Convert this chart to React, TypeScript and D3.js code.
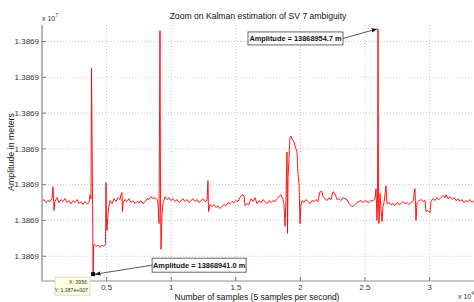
import React from "react";
import * as d3 from "d3";

const BASE = 13868000;
const sampleIndex = [
  0, 155, 310, 464, 619, 774, 851, 929, 1006, 1161, 1316, 1471, 1625, 1780, 1935, 2090, 2245, 2399, 2554, 2709,
  2864, 3019, 3173, 3328, 3483, 3638, 3715, 3793, 3831, 3956, 3994, 4025, 4180, 4334, 4489, 4644, 4799, 4915, 4954, 4992,
  5031, 5108, 5186, 5263, 5418, 5573, 5728, 5882, 6037, 6115, 6192, 6231, 6269, 6424, 6579, 6734, 6889, 7043, 7198, 7353,
  7508, 7663, 7817, 7972, 8127, 8282, 8437, 8591, 8746, 8901, 8978, 9056, 9133, 9172, 9211, 9288, 9365, 9520, 9675, 9830,
  9985, 10139, 10294, 10449, 10604, 10759, 10913, 11068, 11223, 11378, 11533, 11687, 11842, 11997, 12152, 12307, 12461, 12616, 12771, 12848,
  12887, 13003, 13158, 13313, 13468, 13622, 13777, 13932, 14087, 14242, 14396, 14551, 14706, 14861, 15016, 15170, 15325, 15480, 15635, 15712,
  15867, 16022, 16177, 16331, 16486, 16641, 16796, 16951, 17105, 17260, 17415, 17570, 17725, 17879, 18034, 18189, 18344, 18499, 18653, 18731,
  18808, 18886, 18963, 19002, 19040, 19118, 19195, 19273, 19350, 19505, 19582, 19737, 19814, 19892, 19969, 20047, 20124, 20279, 20434, 20588,
  20743, 20898, 21053, 21208, 21362, 21517, 21672, 21749, 21904, 22059, 22214, 22369, 22523, 22678, 22833, 22988, 23143, 23297, 23452, 23607,
  23762, 23917, 24071, 24226, 24381, 24536, 24691, 24845, 25000, 25155, 25310, 25465, 25619, 25774, 25852, 25929, 25968, 26006, 26045, 26084,
  26161, 26239, 26316, 26393, 26471, 26626, 26703, 26858, 27013, 27168, 27322, 27477, 27632, 27787, 27942, 28096, 28251, 28406, 28561, 28716,
  28870, 28948, 29025, 29180, 29335, 29489, 29644, 29722, 29876, 30031, 30109, 30263, 30418, 30573, 30728, 30883, 31037, 31192, 31270, 31424,
  31579, 31734, 31889, 32044, 32198, 32353, 32508, 32663, 32818, 32972, 33127, 33282, 33437,
];
// metres above 13868000 m
const ambiguityAboveBase = [
  945.06, 945.17, 945.0, 945.11, 945.06, 945.22, 945.89, 944.56, 945.06, 945.28, 945.0, 945.17, 945.06, 945.22, 945.0, 945.11, 944.94, 945.11, 945.0, 945.17,
  944.94, 945.06, 944.89, 945.06, 944.94, 945.0, 945.44, 945.22, 952.5, 941.0, 942.61, 942.67, 942.56, 942.61, 942.5, 942.61, 942.56, 942.67, 946.11, 943.83,
  943.44, 944.39, 944.78, 945.11, 944.94, 945.22, 945.06, 945.28, 945.17, 945.44, 945.56, 944.5, 945.0, 945.17, 945.06, 945.22, 945.0, 945.11, 944.94, 945.06,
  945.0, 945.11, 944.94, 945.06, 945.22, 945.17, 945.33, 945.22, 945.28, 945.17, 944.94, 943.83, 954.6, 945.22, 942.39, 944.39, 944.94, 945.33, 945.17, 945.28,
  945.11, 945.22, 945.06, 945.17, 945.0, 945.11, 945.22, 945.06, 945.17, 945.0, 945.11, 945.22, 945.06, 945.17, 945.0, 945.11, 945.22, 945.06, 945.11, 946.22,
  944.5, 944.89, 944.78, 944.89, 944.72, 944.83, 944.67, 944.78, 944.89, 944.83, 945.0, 944.94, 945.06, 945.0, 945.11, 945.06, 945.28, 945.44, 945.39, 944.83,
  944.94, 944.89, 945.22, 945.06, 945.28, 944.94, 945.11, 945.0, 945.17, 945.06, 944.94, 945.11, 945.0, 945.11, 945.06, 945.22, 945.33, 945.44, 945.17, 944.89,
  943.67, 945.22, 947.83, 943.28, 946.33, 947.44, 948.67, 948.72, 948.56, 948.39, 948.17, 947.83, 946.61, 946.06, 943.83, 944.94, 945.11, 945.0, 945.17, 945.06,
  944.94, 945.11, 945.06, 945.17, 945.06, 945.61, 945.61, 945.33, 945.22, 945.11, 945.28, 945.17, 945.61, 945.5, 945.17, 945.22, 945.11, 945.28, 945.22, 945.17,
  944.94, 944.83, 944.78, 944.89, 945.0, 945.06, 945.11, 945.0, 945.11, 945.06, 945.0, 945.11, 945.11, 945.22, 945.78, 944.0, 944.94, 954.7, 945.22, 943.83,
  945.5, 944.67, 943.94, 944.78, 945.0, 945.94, 944.94, 945.0, 944.89, 944.94, 944.83, 945.0, 944.89, 944.94, 945.06, 944.94, 945.0, 944.89, 945.0, 945.06,
  945.78, 944.0, 945.0, 945.11, 945.17, 945.06, 945.11, 944.5, 944.56, 944.44, 945.06, 945.22, 945.11, 945.28, 945.17, 945.28, 945.39, 945.28, 945.44, 945.22,
  945.33, 945.17, 945.28, 945.11, 945.22, 945.06, 945.17, 945.0, 945.11, 945.06, 945.17, 945.0, 945.11,
];

const yTickValues = [13868942, 13868944, 13868946, 13868948, 13868950, 13868952, 13868954];
const xTickValues = [5000, 10000, 15000, 20000, 25000, 30000];

const minPoint = { sample: 3956, value: 13868941.0 };
const maxPoint = { sample: 26006, value: 13868954.7 };

const W = 474;
const H = 302;
const left = 42, right = 474, top = 25, bottom = 281;
const FONT = "'Liberation Sans', Arial, sans-serif";

export default function App() {
  const x = d3.scaleLinear().domain([0, 33437]).range([left, right]);
  const y = d3.scaleLinear().domain([BASE + 940.62, BASE + 954.92]).range([bottom, top]);
  const pts: [number, number][] = sampleIndex.map((s, i) => [s, BASE + ambiguityAboveBase[i]]);
  const line = d3
    .line<[number, number]>()
    .x((d) => x(d[0]))
    .y((d) => y(d[1]));

  const mnX = x(minPoint.sample), mnY = y(minPoint.value);
  const mxX = x(maxPoint.sample), mxY = y(maxPoint.value);

  const box1 = { x: mnX + 59, y: mnY - 16, w: 94, h: 14 };
  const box2 = { x: mxX - 130, y: mxY + 3, w: 95, h: 13 };

  return (
    <svg
      width={W}
      height={H}
      style={{ position: "absolute", left: 0, top: 0, background: "#fff" }}
      fontFamily={FONT}
    >
      <defs>
        <clipPath id="plot">
          <rect x={left} y={top} width={right - left} height={bottom - top} />
        </clipPath>
        <marker id="ah" viewBox="0 0 10 10" refX="10" refY="5" markerWidth="6" markerHeight="6" orient="auto">
          <path d="M0,1 L10,5 L0,9 Z" fill="#111" />
        </marker>
      </defs>
      <rect x={0} y={0} width={W} height={H} fill="#fff" />

      {/* grid */}
      {yTickValues.map((v) => (
        <line key={"gy" + v} x1={left} x2={right} y1={y(v)} y2={y(v)} stroke="#bdbdbd" strokeWidth={0.8} strokeDasharray="1,2" />
      ))}
      {xTickValues.map((v) => (
        <line key={"gx" + v} x1={x(v)} x2={x(v)} y1={top} y2={bottom} stroke="#bdbdbd" strokeWidth={0.8} strokeDasharray="1,2" />
      ))}

      {/* data */}
      <path d={line(pts) || ""} fill="none" stroke="#ff0000" strokeWidth={0.9} strokeLinejoin="round" clipPath="url(#plot)" />

      {/* axes */}
      <line x1={left} x2={left} y1={top} y2={bottom} stroke="#b4b4b4" strokeWidth={2} />
      <line x1={left} x2={right} y1={bottom} y2={bottom} stroke="#b4b4b4" strokeWidth={1.5} />
      {yTickValues.map((v) => (
        <g key={"ty" + v}>
          <line x1={left} x2={left + 4} y1={y(v)} y2={y(v)} stroke="#777" strokeWidth={1} />
          <text x={left - 3} y={y(v)} dy="0.35em" textAnchor="end" fontSize={8} fill="#333">
            {d3.format(".4f")(v / 1e7)}
          </text>
        </g>
      ))}
      {xTickValues.map((v) => (
        <g key={"tx" + v}>
          <line x1={x(v)} x2={x(v)} y1={bottom} y2={bottom - 4} stroke="#777" strokeWidth={1} />
          <text x={x(v)} y={bottom + 8.5} textAnchor="middle" fontSize={7.8} fill="#333">
            {String(v / 1e4)}
          </text>
        </g>
      ))}

      {/* exponents */}
      <text x={left} y={21} fontSize={7} fill="#333">
        x 10<tspan dy={-4} fontSize={5}>7</tspan>
      </text>
      <text x={458} y={299} fontSize={7} fill="#333">
        x 10<tspan dy={-4} fontSize={5}>4</tspan>
      </text>

      {/* title and labels */}
      <text x={258} y={19} textAnchor="middle" fontSize={8.6} fill="#111">
        Zoom on Kalman estimation of SV 7 ambiguity
      </text>
      <text x={257} y={299.5} textAnchor="middle" fontSize={8.5} fill="#111">
        Number of samples (5 samples per second)
      </text>
      <text transform="translate(14,152) rotate(-90)" textAnchor="middle" fontSize={8.8} fill="#111">
        Amplitude in meters
      </text>

      {/* annotation arrows */}
      <line x1={box1.x} y1={box1.y + box1.h / 2} x2={mnX + 2} y2={mnY} stroke="#444" strokeWidth={0.9} markerEnd="url(#ah)" />
      <rect x={box1.x} y={box1.y} width={box1.w} height={box1.h} fill="#fff" stroke="#555" strokeWidth={0.9} />
      <text x={box1.x + box1.w / 2} y={box1.y + box1.h / 2} dy="0.36em" textAnchor="middle" fontSize={7.4} fontWeight={600} fill="#111">
        Amplitude = {minPoint.value.toFixed(1)} m
      </text>

      <line x1={box2.x + box2.w} y1={box2.y + box2.h / 2} x2={mxX - 1} y2={mxY} stroke="#444" strokeWidth={0.9} markerEnd="url(#ah)" />
      <rect x={box2.x} y={box2.y} width={box2.w} height={box2.h} fill="#fff" stroke="#555" strokeWidth={0.9} />
      <text x={box2.x + box2.w / 2} y={box2.y + box2.h / 2} dy="0.36em" textAnchor="middle" fontSize={7.4} fontWeight={600} fill="#111">
        Amplitude = {maxPoint.value.toFixed(1)} m
      </text>

      {/* datatip */}
      <rect x={mnX - 2} y={mnY - 2} width={4} height={4} fill="#000" />
      <rect x={55} y={mnY + 3} width={35} height={18} fill="#ffffe1" stroke="#cfcfb0" strokeWidth={0.7} />
      <text x={87} y={mnY + 10} textAnchor="end" fontSize={5.2} fill="#333">
        X: {minPoint.sample}
      </text>
      <text x={88} y={mnY + 18} textAnchor="end" fontSize={5.2} fill="#333">
        Y: 1.387e+007
      </text>
    </svg>
  );
}
